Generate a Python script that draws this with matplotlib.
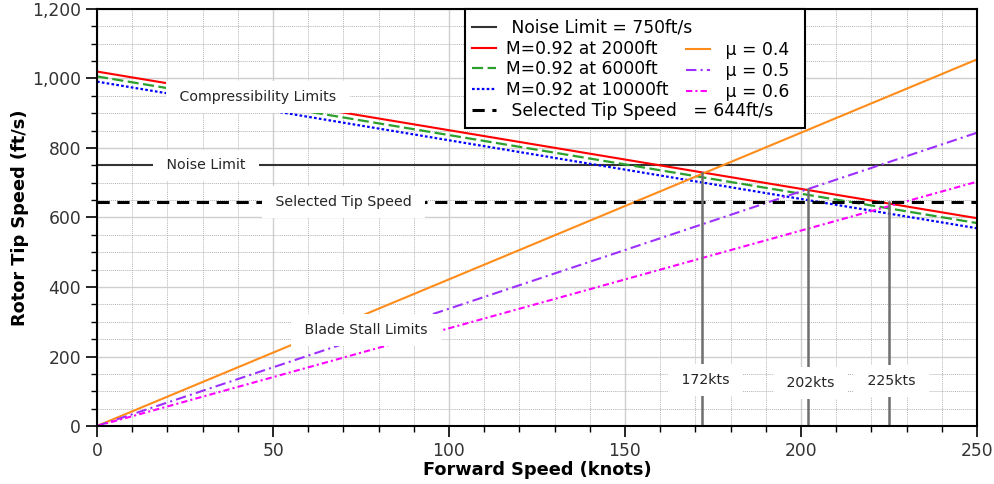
import numpy as np
import matplotlib
matplotlib.use("Agg")
import matplotlib.pyplot as plt
from matplotlib.patches import Rectangle
from matplotlib.ticker import MultipleLocator, FuncFormatter

# --- data ---
speed_ends = [0, 250]                      # knots
tip_m092_2000 = [1020, 598]                # ft/s
tip_m092_6000 = [1006, 584]
tip_m092_10000 = [991, 569]
tip_mu04 = [0, 1055]
tip_mu05 = [0, 844]
tip_mu06 = [0, 703]
noise_limit = 750
selected_tip = 644
cross_speeds = [172, 202, 225]             # knots
cross_tips = [728, 683, 645]
cross_labels = ["172kts", "202kts", "225kts"]
cross_label_y = [132, 124, 129]

TXT = "#262626"

fig = plt.figure(figsize=(9.95, 4.84), dpi=100)
ax = fig.add_axes([97 / 995, 1 - 426 / 484, 880 / 995, 417 / 484])

h_noise, = ax.plot(speed_ends, [noise_limit, noise_limit], color="#333333", lw=1.5,
                   label=" Noise Limit = 750ft/s")
h_2000, = ax.plot(speed_ends, tip_m092_2000, color="red", lw=1.5, label="M=0.92 at 2000ft")
h_6000, = ax.plot(speed_ends, tip_m092_6000, color="#2ca02c", lw=1.6, ls=(0, (5, 2)),
                  label="M=0.92 at 6000ft")
h_10000, = ax.plot(speed_ends, tip_m092_10000, color="blue", lw=1.6, ls=(0, (1.2, 1)),
                   label="M=0.92 at 10000ft")
h_mu04, = ax.plot(speed_ends, tip_mu04, color="#ff8c1a", lw=1.5, label=" μ = 0.4")
h_mu05, = ax.plot(speed_ends, tip_mu05, color="#9b30ff", lw=1.5, ls=(0, (5, 2, 1, 2)),
                  label=" μ = 0.5")
h_mu06, = ax.plot(speed_ends, tip_mu06, color="magenta", lw=1.5, ls=(0, (3, 1.5, 1, 1.5)),
                  label=" μ = 0.6")
h_sel, = ax.plot(speed_ends, [selected_tip, selected_tip], color="black", lw=2.2,
                 ls=(0, (4, 2.5)), label=" Selected Tip Speed   = 644ft/s")

for xs, ys in zip(cross_speeds, cross_tips):
    ax.plot([xs, xs], [0, ys], color="#6e6e6e", lw=1.8)

# white-boxed labels that break the lines
box = dict(boxstyle="square,pad=0.62", facecolor="white", edgecolor="none")
ax.text(45.7, 947, " Compressibility Limits ", fontsize=10.2, color=TXT,
        ha="center", va="center", bbox=box, zorder=5)
ax.text(31, 750, " Noise Limit ", fontsize=10.2, color=TXT,
        ha="center", va="center", bbox=box, zorder=5)
ax.text(70, 644, " Selected Tip Speed ", fontsize=10.2, color=TXT,
        ha="center", va="center", bbox=box, zorder=5)
ax.text(76.5, 276, " Blade Stall Limits ", fontsize=10.2, color=TXT,
        ha="center", va="center", bbox=box, zorder=5)
for xs, lab, yy in zip(cross_speeds, cross_labels, cross_label_y):
    ax.text(xs + 0.8, yy, " " + lab + " ", fontsize=10.2, color=TXT,
            ha="center", va="center", bbox=box, zorder=5)

ax.set_xlim(0, 250)
ax.set_ylim(0, 1200)
ax.xaxis.set_major_locator(MultipleLocator(50))
ax.xaxis.set_minor_locator(MultipleLocator(10))
ax.yaxis.set_major_locator(MultipleLocator(200))
ax.yaxis.set_minor_locator(MultipleLocator(50))
ax.yaxis.set_major_formatter(FuncFormatter(lambda v, p: f"{v:,.0f}"))
ax.grid(which="major", color="#cfcfcf", lw=1.0, ls="-")
ax.grid(which="minor", color="#b4b4b4", lw=0.7, ls=(0, (1, 1)))
ax.set_axisbelow(True)
ax.tick_params(which="major", length=8, width=1.2, labelsize=12.3, labelcolor="#333333")
ax.tick_params(which="minor", length=4.5, width=1.0)
for s in ax.spines.values():
    s.set_linewidth(1.5)

ax.set_xlabel("Forward Speed (knots)", fontsize=12.8, fontweight="bold", labelpad=1)
ax.set_ylabel("Rotor Tip Speed (ft/s)", fontsize=12.8, fontweight="bold", labelpad=2)

# legend box spanning both columns
frame = Rectangle((0.418, 0.7146), 0.8045 - 0.418, 1.0 - 0.7146, transform=ax.transAxes,
                  facecolor="white", edgecolor="black", lw=1.5, zorder=9, clip_on=False)
ax.add_patch(frame)

leg_kw = dict(fontsize=12.3, handlelength=1.4, handletextpad=0.6, labelspacing=0.16,
              borderpad=0.4, borderaxespad=0, frameon=False)
leg1 = ax.legend(handles=[h_noise, h_2000, h_6000, h_10000, h_sel], loc="upper left",
                 bbox_to_anchor=(0.418, 0.9928), **leg_kw)
leg1.set_zorder(10)
ax.add_artist(leg1)
leg2 = ax.legend(handles=[h_mu04, h_mu05, h_mu06], loc="upper left",
                 bbox_to_anchor=(0.6611, 0.9394), **leg_kw)
leg2.set_zorder(11)

fig.savefig("out.png", dpi=100)
